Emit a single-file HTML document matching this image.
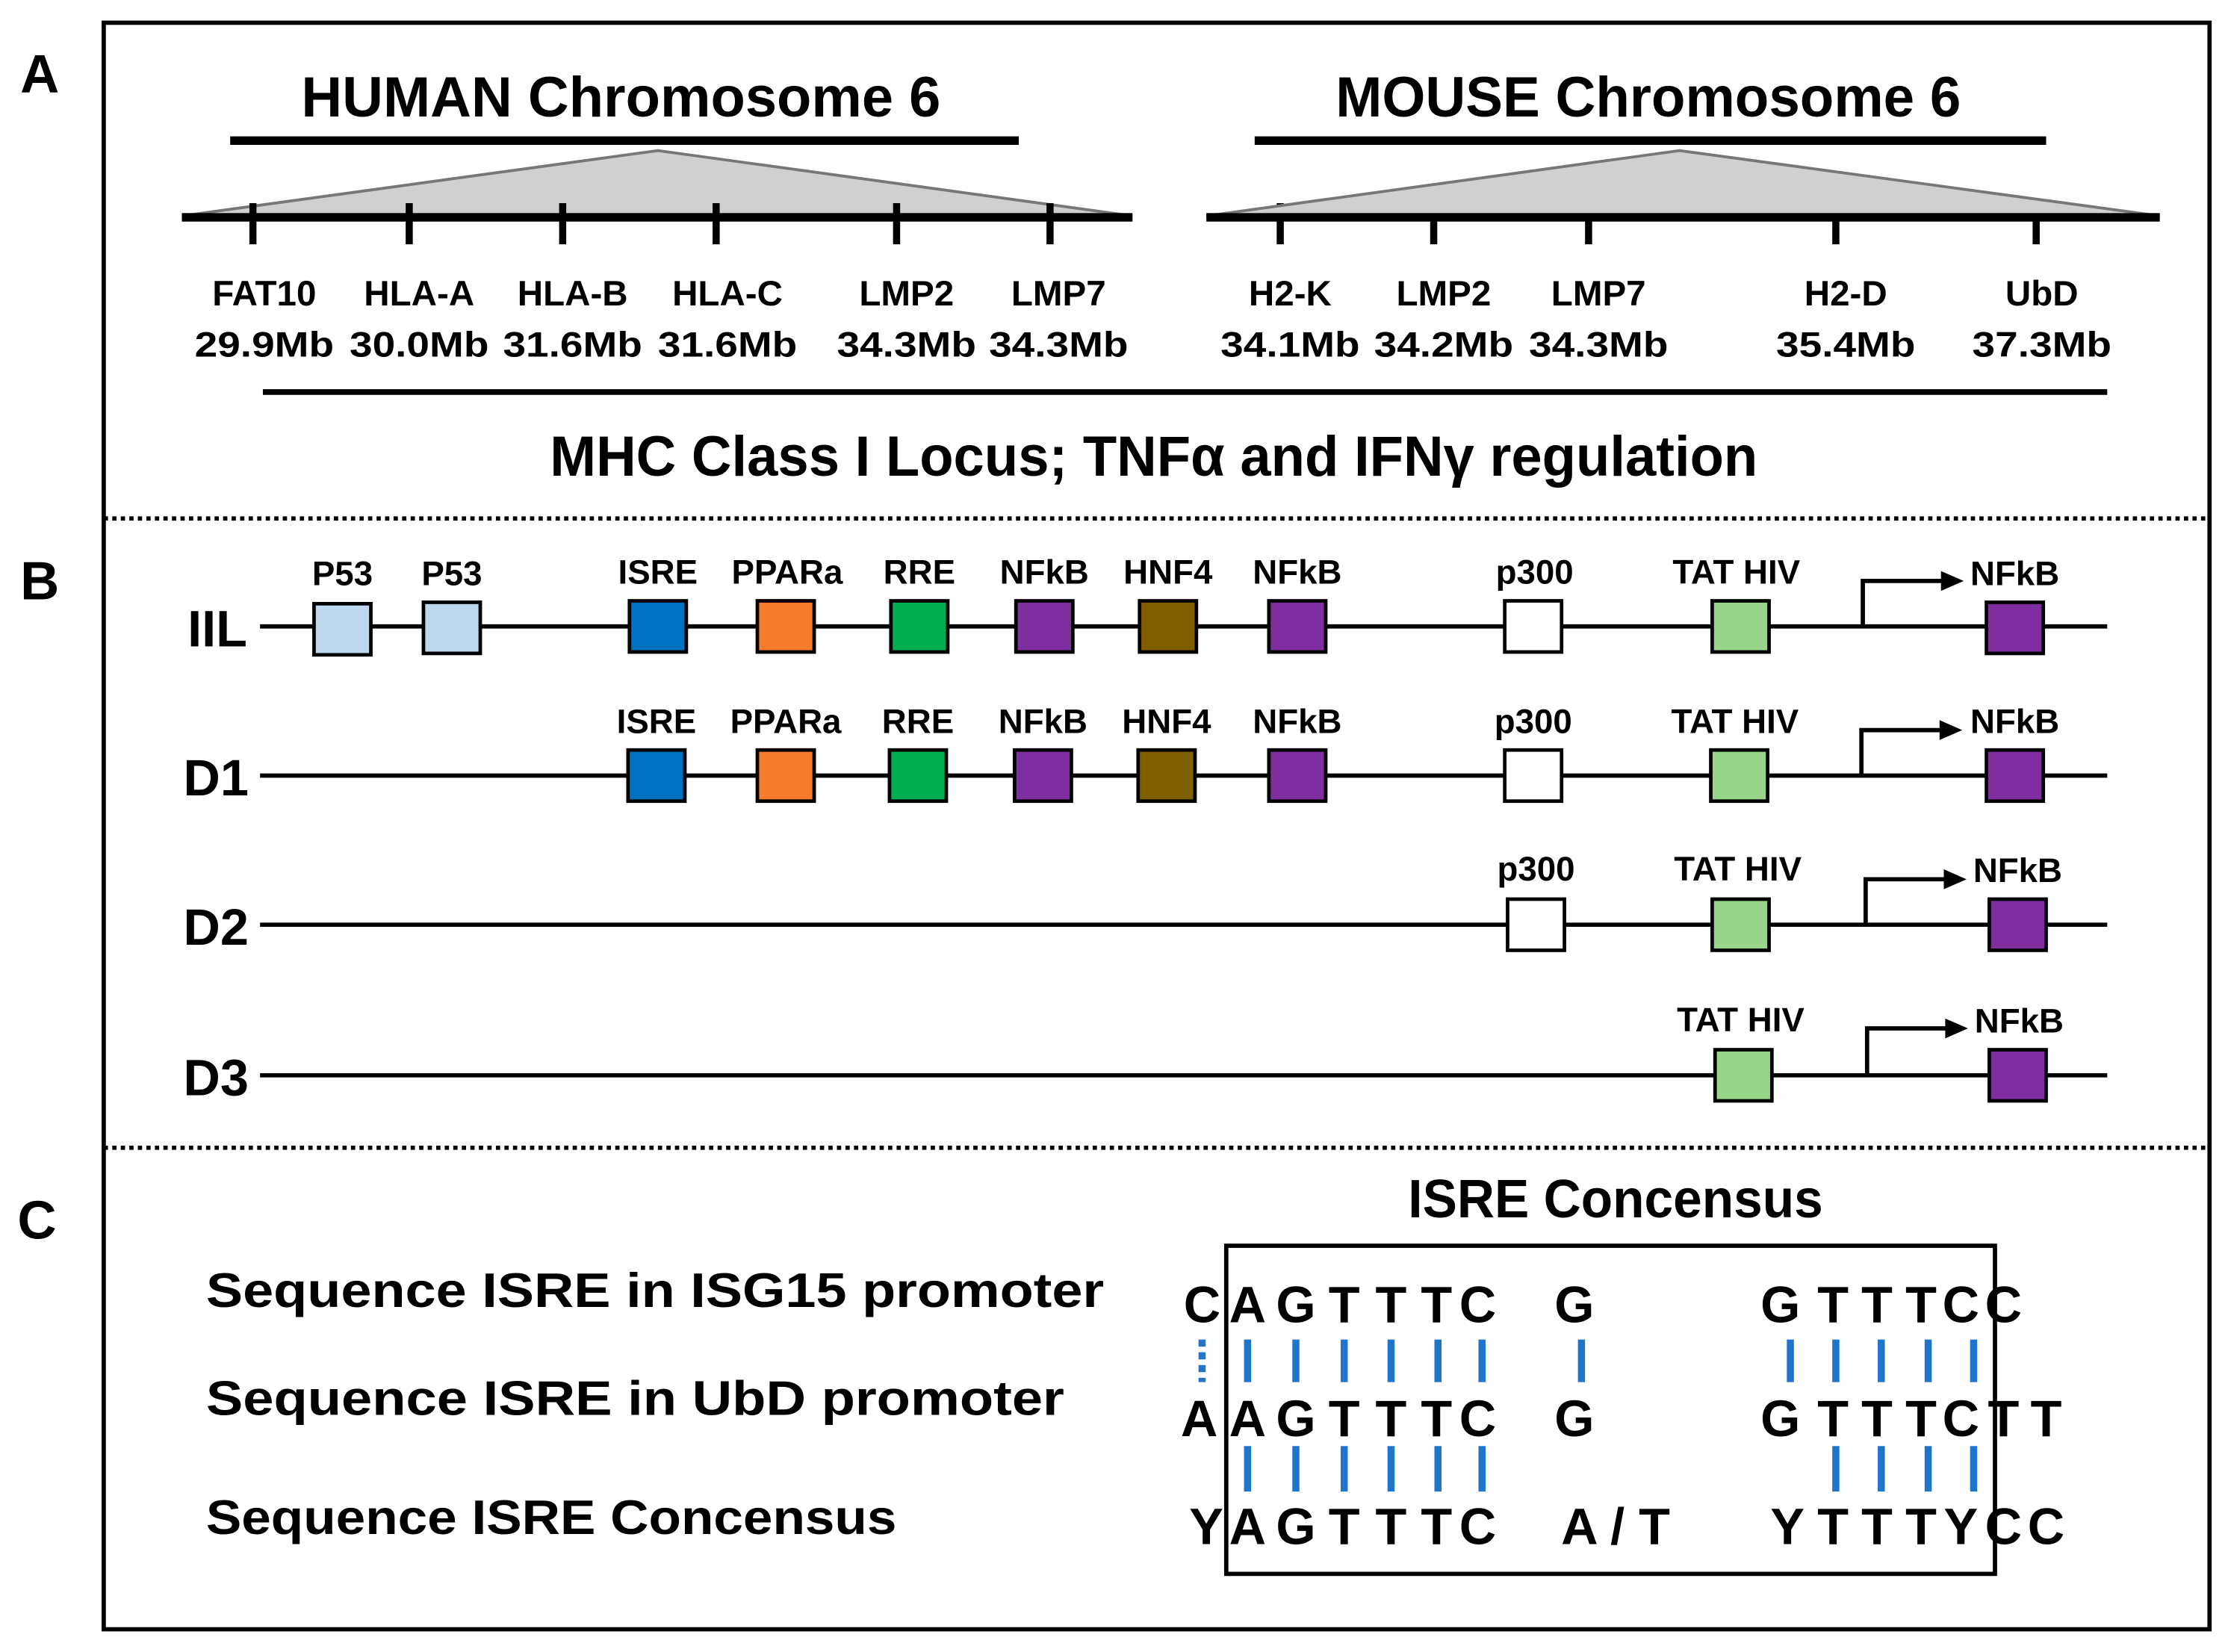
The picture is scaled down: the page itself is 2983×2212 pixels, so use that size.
<!DOCTYPE html>
<html><head><meta charset="utf-8"><style>
html,body{margin:0;padding:0;background:#fff}
svg{display:block}
text{font-family:"Liberation Sans",sans-serif;font-weight:bold;fill:#000}
</style></head><body>
<svg width="2983" height="2212" viewBox="0 0 1568 1163" preserveAspectRatio="none" xmlns="http://www.w3.org/2000/svg">
<rect x="73" y="16" width="1482" height="1131" fill="none" stroke="#000" stroke-width="3"/>
<text x="28" y="65" font-size="38" text-anchor="middle">A</text>
<text x="28" y="422" font-size="38" text-anchor="middle">B</text>
<text x="26" y="872" font-size="38" text-anchor="middle">C</text>

<!-- Human -->
<text x="437" y="82" font-size="40" text-anchor="middle" textLength="450" lengthAdjust="spacingAndGlyphs">HUMAN Chromosome 6</text>
<rect x="162" y="96" width="555" height="6" fill="#000"/>
<polygon points="128,152 463,106 797,152" fill="#d0d0d0" stroke="#777" stroke-width="2"/>
<rect x="128" y="150" width="669" height="6" fill="#000"/>
<g stroke="#000" stroke-width="5">
<line x1="178" y1="143" x2="178" y2="172"/><line x1="288" y1="143" x2="288" y2="172"/><line x1="396" y1="143" x2="396" y2="172"/><line x1="504" y1="143" x2="504" y2="172"/><line x1="631" y1="143" x2="631" y2="172"/><line x1="739" y1="143" x2="739" y2="172"/>
<line x1="901" y1="143" x2="901" y2="172"/><line x1="1009" y1="143" x2="1009" y2="172"/><line x1="1118" y1="143" x2="1118" y2="172"/><line x1="1292" y1="143" x2="1292" y2="172"/><line x1="1433" y1="143" x2="1433" y2="172"/>
</g>
<g font-size="25" text-anchor="middle">
<text x="186" y="215">FAT10</text><text x="186" y="251" textLength="98" lengthAdjust="spacingAndGlyphs">29.9Mb</text>
<text x="295" y="215">HLA-A</text><text x="295" y="251" textLength="98" lengthAdjust="spacingAndGlyphs">30.0Mb</text>
<text x="403" y="215">HLA-B</text><text x="403" y="251" textLength="98" lengthAdjust="spacingAndGlyphs">31.6Mb</text>
<text x="512" y="215">HLA-C</text><text x="512" y="251" textLength="98" lengthAdjust="spacingAndGlyphs">31.6Mb</text>
<text x="638" y="215">LMP2</text><text x="638" y="251" textLength="98" lengthAdjust="spacingAndGlyphs">34.3Mb</text>
<text x="745" y="215">LMP7</text><text x="745" y="251" textLength="98" lengthAdjust="spacingAndGlyphs">34.3Mb</text>
<text x="908" y="215">H2-K</text><text x="908" y="251" textLength="98" lengthAdjust="spacingAndGlyphs">34.1Mb</text>
<text x="1016" y="215">LMP2</text><text x="1016" y="251" textLength="98" lengthAdjust="spacingAndGlyphs">34.2Mb</text>
<text x="1125" y="215">LMP7</text><text x="1125" y="251" textLength="98" lengthAdjust="spacingAndGlyphs">34.3Mb</text>
<text x="1299" y="215">H2-D</text><text x="1299" y="251" textLength="98" lengthAdjust="spacingAndGlyphs">35.4Mb</text>
<text x="1437" y="215">UbD</text><text x="1437" y="251" textLength="98" lengthAdjust="spacingAndGlyphs">37.3Mb</text>
</g>
<!-- Mouse -->
<text x="1160" y="82" font-size="40" text-anchor="middle" textLength="440" lengthAdjust="spacingAndGlyphs">MOUSE Chromosome 6</text>
<rect x="883" y="96" width="557" height="6" fill="#000"/>
<polygon points="849,152 1182,106 1520,152" fill="#d0d0d0" stroke="#777" stroke-width="2"/>
<rect x="849" y="150" width="671" height="6" fill="#000"/>

<rect x="185" y="274" width="1298" height="4" fill="#000"/>
<text x="812" y="335" font-size="40" text-anchor="middle" textLength="850" lengthAdjust="spacingAndGlyphs">MHC Class I Locus;  TNFα and IFNγ regulation</text>
<line x1="73" y1="365" x2="1555" y2="365" stroke="#000" stroke-width="3" stroke-dasharray="3,3"/>
<line x1="73" y1="808" x2="1555" y2="808" stroke="#000" stroke-width="3" stroke-dasharray="3,3"/>

<!-- B rows -->
<g font-size="36" text-anchor="middle">
<text x="153" y="455">IIL</text><text x="152" y="560">D1</text><text x="152" y="665">D2</text><text x="152" y="771">D3</text>
</g>
<g stroke="#000" stroke-width="3">
<line x1="183" y1="441" x2="1483" y2="441"/><line x1="183" y1="546" x2="1483" y2="546"/><line x1="183" y1="651" x2="1483" y2="651"/><line x1="183" y1="757" x2="1483" y2="757"/>
</g>
<g stroke="#000" stroke-width="2.5">
<rect x="221" y="425" width="40" height="36" fill="#bdd7ee"/>
<rect x="298" y="424" width="40" height="36" fill="#bdd7ee"/>
<rect x="443" y="423" width="40" height="36" fill="#0070c0"/>
<rect x="533" y="423" width="40" height="36" fill="#f47c2c"/>
<rect x="627" y="423" width="40" height="36" fill="#00b050"/>
<rect x="715" y="423" width="40" height="36" fill="#7f2ea0"/>
<rect x="802" y="423" width="40" height="36" fill="#7f6000"/>
<rect x="893" y="423" width="40" height="36" fill="#7f2ea0"/>
<rect x="1059" y="423" width="40" height="36" fill="#fff"/>
<rect x="1205" y="423" width="40" height="36" fill="#98d48a"/>
<rect x="1398" y="424" width="40" height="36" fill="#7f2ea0"/>
<rect x="442" y="528" width="40" height="36" fill="#0070c0"/>
<rect x="533" y="528" width="40" height="36" fill="#f47c2c"/>
<rect x="626" y="528" width="40" height="36" fill="#00b050"/>
<rect x="714" y="528" width="40" height="36" fill="#7f2ea0"/>
<rect x="801" y="528" width="40" height="36" fill="#7f6000"/>
<rect x="893" y="528" width="40" height="36" fill="#7f2ea0"/>
<rect x="1059" y="528" width="40" height="36" fill="#fff"/>
<rect x="1204" y="528" width="40" height="36" fill="#98d48a"/>
<rect x="1398" y="528" width="40" height="36" fill="#7f2ea0"/>
<rect x="1061" y="633" width="40" height="36" fill="#fff"/>
<rect x="1205" y="633" width="40" height="36" fill="#98d48a"/>
<rect x="1400" y="633" width="40" height="36" fill="#7f2ea0"/>
<rect x="1207" y="739" width="40" height="36" fill="#98d48a"/>
<rect x="1400" y="739" width="40" height="36" fill="#7f2ea0"/>
</g>
<g stroke="#000" stroke-width="3" fill="none">
<polyline points="1311,441 1311,409 1368,409"/>
<polyline points="1310,546 1310,514 1367,514"/>
<polyline points="1313,651 1313,619 1370,619"/>
<polyline points="1314,757 1314,724 1371,724"/>
</g>
<g fill="#000">
<polygon points="1366,402 1382,409 1366,416"/>
<polygon points="1365,507 1381,514 1365,521"/>
<polygon points="1368,612 1384,619 1368,626"/>
<polygon points="1369,717 1385,724 1369,731"/>
</g>
<g font-size="24" text-anchor="middle">
<text x="241" y="412">P53</text><text x="318" y="412">P53</text><text x="463" y="411">ISRE</text><text x="554" y="411">PPARa</text><text x="647" y="411">RRE</text><text x="735" y="411">NFkB</text><text x="822" y="411">HNF4</text><text x="913" y="411">NFkB</text><text x="1080" y="411">p300</text><text x="1222" y="411">TAT HIV</text><text x="1418" y="412">NFkB</text>
<text x="462" y="516">ISRE</text><text x="553" y="516">PPARa</text><text x="646" y="516">RRE</text><text x="734" y="516">NFkB</text><text x="821" y="516">HNF4</text><text x="913" y="516">NFkB</text><text x="1079" y="516">p300</text><text x="1221" y="516">TAT HIV</text><text x="1418" y="516">NFkB</text>
<text x="1081" y="620">p300</text><text x="1223" y="620">TAT HIV</text><text x="1420" y="621">NFkB</text>
<text x="1225" y="726">TAT HIV</text><text x="1421" y="727">NFkB</text>
</g>

<!-- C -->
<g font-size="34">
<text x="145" y="920" textLength="632" lengthAdjust="spacingAndGlyphs">Sequence ISRE in ISG15 promoter</text>
<text x="145" y="996" textLength="604" lengthAdjust="spacingAndGlyphs">Sequence ISRE in UbD promoter</text>
<text x="145" y="1080" textLength="486" lengthAdjust="spacingAndGlyphs">Sequence ISRE Concensus</text>
</g>
<text x="1137" y="857" font-size="38" text-anchor="middle" textLength="292" lengthAdjust="spacingAndGlyphs">ISRE Concensus</text>
<rect x="863" y="877" width="541" height="231" fill="none" stroke="#000" stroke-width="3"/>
<g font-size="36" text-anchor="middle">
<text x="846" y="931">C</text><text x="878" y="931">A</text><text x="912" y="931">G</text><text x="946" y="931">T</text><text x="979" y="931">T</text><text x="1011" y="931">T</text><text x="1040" y="931">C</text><text x="1108" y="931">G</text><text x="1253" y="931">G</text><text x="1290" y="931">T</text><text x="1321" y="931">T</text><text x="1352" y="931">T</text><text x="1380" y="931">C</text><text x="1410" y="931">C</text>
<text x="844" y="1011">A</text><text x="878" y="1011">A</text><text x="912" y="1011">G</text><text x="946" y="1011">T</text><text x="979" y="1011">T</text><text x="1011" y="1011">T</text><text x="1040" y="1011">C</text><text x="1108" y="1011">G</text><text x="1253" y="1011">G</text><text x="1290" y="1011">T</text><text x="1321" y="1011">T</text><text x="1352" y="1011">T</text><text x="1380" y="1011">C</text><text x="1410" y="1011">T</text><text x="1440" y="1011">T</text>
<text x="849" y="1087">Y</text><text x="878" y="1087">A</text><text x="912" y="1087">G</text><text x="946" y="1087">T</text><text x="979" y="1087">T</text><text x="1011" y="1087">T</text><text x="1040" y="1087">C</text><text x="1137" y="1087">A / T</text><text x="1258" y="1087">Y</text><text x="1290" y="1087">T</text><text x="1321" y="1087">T</text><text x="1352" y="1087">T</text><text x="1380" y="1087">Y</text><text x="1410" y="1087">C</text><text x="1440" y="1087">C</text>
</g>
<g stroke="#1f74cc" stroke-width="5">
<line x1="846" y1="943" x2="846" y2="973" stroke-dasharray="5,4"/>
<line x1="878" y1="943" x2="878" y2="973"/><line x1="912" y1="943" x2="912" y2="973"/><line x1="946" y1="943" x2="946" y2="973"/><line x1="979" y1="943" x2="979" y2="973"/><line x1="1012" y1="943" x2="1012" y2="973"/><line x1="1043" y1="943" x2="1043" y2="973"/><line x1="1113" y1="943" x2="1113" y2="973"/>
<line x1="1260" y1="943" x2="1260" y2="973"/><line x1="1292" y1="943" x2="1292" y2="973"/><line x1="1324" y1="943" x2="1324" y2="973"/><line x1="1357" y1="943" x2="1357" y2="973"/><line x1="1389" y1="943" x2="1389" y2="973"/>
<line x1="878" y1="1018" x2="878" y2="1050"/><line x1="912" y1="1018" x2="912" y2="1050"/><line x1="946" y1="1018" x2="946" y2="1050"/><line x1="979" y1="1018" x2="979" y2="1050"/><line x1="1012" y1="1018" x2="1012" y2="1050"/><line x1="1043" y1="1018" x2="1043" y2="1050"/>
<line x1="1292" y1="1018" x2="1292" y2="1050"/><line x1="1324" y1="1018" x2="1324" y2="1050"/><line x1="1357" y1="1018" x2="1357" y2="1050"/><line x1="1389" y1="1018" x2="1389" y2="1050"/>
</g>
</svg>
</body></html>
